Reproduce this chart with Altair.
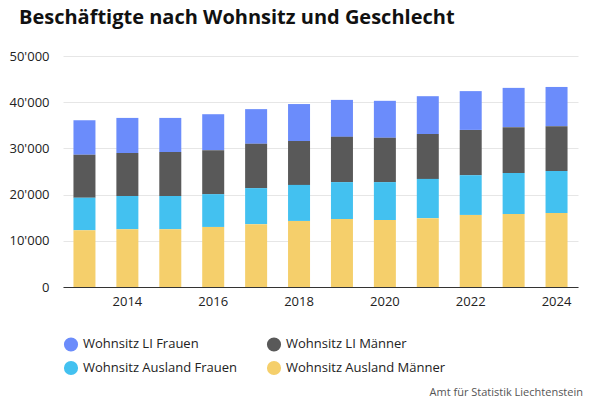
import altair as alt
import pandas as pd

years = list(range(2013, 2025))
ausland_maenner = [12.3, 12.5, 12.5, 13.0, 13.6, 14.3, 14.7, 14.5, 14.9, 15.6, 15.8, 16.0]
ausland_frauen = [7.0, 7.2, 7.2, 7.1, 7.8, 7.8, 8.0, 8.2, 8.5, 8.6, 8.9, 9.1]
li_maenner = [9.3, 9.3, 9.5, 9.5, 9.6, 9.5, 9.8, 9.6, 9.7, 9.8, 9.9, 9.7]
li_frauen = [7.5, 7.6, 7.4, 7.8, 7.5, 8.0, 8.0, 8.0, 8.2, 8.4, 8.5, 8.5]

series = ["Wohnsitz LI Frauen", "Wohnsitz LI Männer", "Wohnsitz Ausland Frauen", "Wohnsitz Ausland Männer"]
colors = ["#6b8cfb", "#595959", "#43c1f0", "#f5cf6b"]
stack_order = {"Wohnsitz Ausland Männer": 0, "Wohnsitz Ausland Frauen": 1, "Wohnsitz LI Männer": 2, "Wohnsitz LI Frauen": 3}

rows = []
for i, y in enumerate(years):
    for name, vals in zip(series, [li_frauen, li_maenner, ausland_frauen, ausland_maenner]):
        rows.append({"Jahr": str(y), "Serie": name, "Wert": vals[i] * 1000, "ord": stack_order[name]})
df = pd.DataFrame(rows)

font = "Open Sans"
bars = alt.Chart(df).mark_bar(size=22).encode(
    x=alt.X("Jahr:O", title=None, axis=alt.Axis(
        labelAngle=0, labelExpr="toNumber(datum.value) % 2 == 0 ? datum.value : ''",
        ticks=False, domainColor="#333", labelFontSize=13, labelColor="#222", labelPadding=8)),
    y=alt.Y("Wert:Q", title=None, stack="zero", scale=alt.Scale(domain=[0, 50000]), axis=alt.Axis(
        values=[0, 10000, 20000, 30000, 40000, 50000],
        labelExpr="replace(format(datum.value, ','), ',', \"'\")",
        domain=False, ticks=False, gridColor="#e6e6e6", labelFontSize=13, labelColor="#222", labelPadding=14)),
    color=alt.Color("Serie:N", scale=alt.Scale(domain=series, range=colors), legend=alt.Legend(
        title=None, orient="bottom", columns=2, symbolType="circle", symbolSize=200,
        labelFontSize=13, labelColor="#222", columnPadding=28, rowPadding=8, labelLimit=250,
        offset=28, padding=0)),
    order=alt.Order("ord:Q"),
)

note = alt.Chart(pd.DataFrame({"t": ["Amt für Statistik Liechtenstein"]})).mark_text(
    align="right", baseline="middle", fontSize=11, color="#555", font=font
).encode(text="t:N", x=alt.value(520), y=alt.value(337))

final = alt.layer(bars, note).properties(
    width=515, height=231,
    padding={"left": 0, "right": 0, "top": 0, "bottom": 0},
    title=alt.TitleParams("Beschäftigte nach Wohnsitz und Geschlecht", anchor="start", fontSize=20,
                          fontWeight="bold", color="#111", font=font, offset=22, dx=10),
).configure(font=font).configure_view(stroke=None).configure_scale(bandPaddingInner=0.4)

final.save("out.html", embed_options={"renderer": "svg", "actions": False})
